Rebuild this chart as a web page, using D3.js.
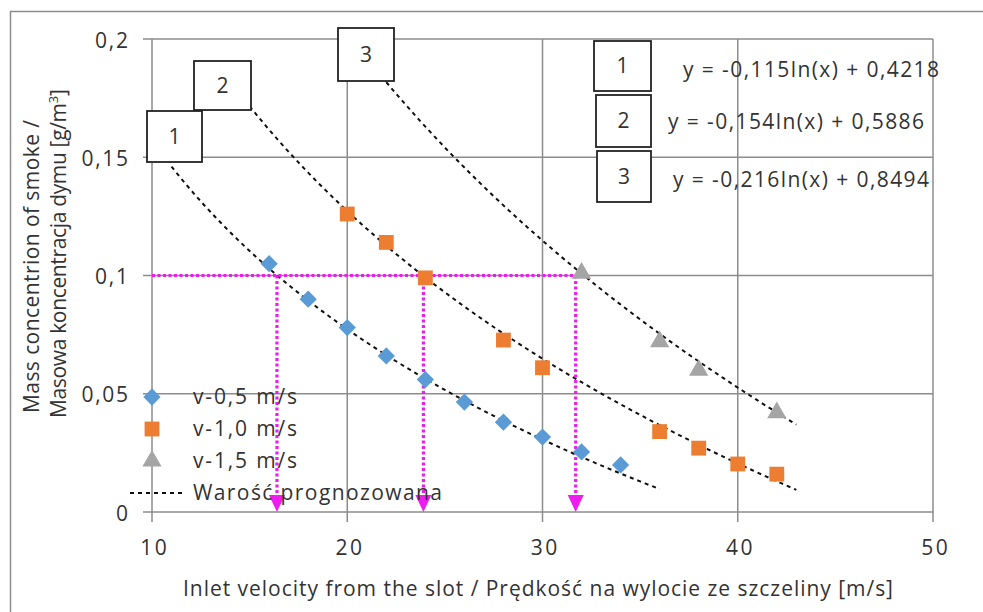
<!DOCTYPE html>
<html>
<head>
<meta charset="utf-8">
<script src="https://cdn.jsdelivr.net/npm/d3@7"></script>
<style>
  html, body { margin: 0; padding: 0; background: #fff; }
  svg { display: block; }
  text { font-family: "Open Sans", Lato, sans-serif; fill: #333; }
</style>
</head>
<body>
<svg id="chart" width="983" height="612"></svg>
<script>
// Measured smoke concentration for three flow velocities
const seriesNames = ["v-0,5 m/s", "v-1,0 m/s", "v-1,5 m/s"];
const x05 = [16, 18, 20, 22, 24, 26, 28, 30, 32, 34];
const y05 = [0.105, 0.090, 0.078, 0.066, 0.056, 0.0465, 0.038, 0.0317, 0.0254, 0.0199];
const x10 = [20, 22, 24, 28, 30, 36, 38, 40, 42];
const y10 = [0.126, 0.114, 0.099, 0.0727, 0.061, 0.034, 0.027, 0.0203, 0.016];
const x15 = [32, 36, 38, 42];
const y15 = [0.101, 0.072, 0.060, 0.042];

// Logarithmic trend lines y = a ln(x) + b, with their x ranges
const trendA = [-0.115, -0.154, -0.216];
const trendB = [0.4218, 0.5886, 0.8494];
const trendFrom = [11, 15, 22];
const trendTo = [36, 43, 43];
const trendLabel = "Warość prognozowana";

// Read-off of the velocity giving 0.1 g/m3
const targetY = 0.1;
const readX = [16.4, 23.9, 31.7];

// Axis ticks
const xTicks = [10, 20, 30, 40, 50];
const yTicks = [0, 0.05, 0.1, 0.15, 0.2];
const xTitle = "Inlet velocity from the slot / Prędkość na wylocie ze szczeliny [m/s]";
const yTitle1 = "Mass concentrion of smoke /";
const yTitle2 = "Masowa koncentracja dymu [g/m";

const colors = ["#5B9BD5", "#ED7D31", "#A5A5A5"];
const fmt = v => String(v).replace(".", ",");
const FS = 21;

const svg = d3.select("#chart");
const L = 152, R = 933, T = 39, B = 512;
const x = d3.scaleLinear().domain([10, 50]).range([L, R]);
const y = d3.scaleLinear().domain([0, 0.2]).range([B, T]);

// Set the letter spacing of a text so it spans the given length
function spanTo(sel, len) {
  sel.attr("textLength", len).attr("lengthAdjust", "spacing");
  return sel;
}
// Widen a set of texts by a common factor, keeping their anchor
function widen(sel, k) {
  sel.each(function () {
    const w = this.getComputedTextLength();
    d3.select(this).attr("textLength", w * k).attr("lengthAdjust", "spacing");
  });
}

// Outer chart frame
svg.append("rect").attr("x", 10.5).attr("y", 11.5).attr("width", 990).attr("height", 620)
  .attr("fill", "none").attr("stroke", "#8c8c8c").attr("stroke-width", 1.5);

// Gridlines
const grid = svg.append("g").attr("stroke", "#8c8c8c").attr("stroke-width", 1.5);
grid.selectAll("line.h").data(yTicks).join("line")
  .attr("x1", L - 9).attr("x2", R).attr("y1", d => y(d)).attr("y2", d => y(d));
grid.selectAll("line.v").data(xTicks).join("line")
  .attr("y1", T).attr("y2", B + 10).attr("x1", d => x(d)).attr("x2", d => x(d));

// Tick labels through d3 axes
const xAxis = svg.append("g").attr("transform", `translate(1,${B})`)
  .call(d3.axisBottom(x).tickValues(xTicks).tickFormat(fmt).tickSize(0).tickPadding(28));
const yAxis = svg.append("g").attr("transform", `translate(${L},0)`)
  .call(d3.axisLeft(y).tickValues(yTicks).tickFormat(fmt).tickSize(0).tickPadding(24));
[xAxis, yAxis].forEach(a => {
  a.select(".domain").remove();
  a.selectAll("text").attr("font-family", "'Open Sans', sans-serif")
    .attr("font-size", FS).attr("fill", "#333");
});
xAxis.selectAll("text").attr("dy", null).attr("y", 43);
yAxis.selectAll("text").attr("dy", null).attr("dominant-baseline", "central").attr("x", -24);
widen(xAxis.selectAll("text"), 1.1);
widen(yAxis.selectAll("text"), 1.12);

// Axis titles
spanTo(svg.append("text").attr("x", 183).attr("y", 596).attr("font-size", FS).text(xTitle), 710);
spanTo(svg.append("text").attr("transform", "translate(39,413) rotate(-90)")
  .attr("font-size", FS).text(yTitle1), 293);
const t2 = svg.append("text").attr("transform", "translate(66,418) rotate(-90)").attr("font-size", FS);
spanTo(t2.append("tspan").text(yTitle2), 315);
t2.append("tspan").attr("font-size", 13).attr("dy", -8).text("3");
t2.append("tspan").attr("dy", 8).text("]");

// Trend lines
const trends = trendA.map((a, i) => {
  const xs = d3.range(trendFrom[i], trendTo[i] + 0.001, 0.25);
  return xs.map(v => [v, a * Math.log(v) + trendB[i]]);
});
const line = d3.line().x(d => x(d[0])).y(d => y(d[1]));
svg.append("g").selectAll("path").data(trends).join("path")
  .attr("d", line).attr("fill", "none").attr("stroke", "#111")
  .attr("stroke-width", 2).attr("stroke-dasharray", "4,4");

// Read-off lines
const pink = "#EE1CEE";
const guide = svg.append("g").attr("stroke", pink).attr("stroke-width", 3.2)
  .attr("stroke-dasharray", "3,2.5").attr("fill", "none");
guide.append("line").attr("x1", L).attr("x2", x(d3.max(readX)) + 4)
  .attr("y1", y(targetY)).attr("y2", y(targetY));
guide.selectAll("line.v").data(readX).join("line")
  .attr("x1", d => x(d)).attr("x2", d => x(d)).attr("y1", y(targetY)).attr("y2", B - 14);
svg.append("g").selectAll("path").data(readX).join("path")
  .attr("d", d => `M${x(d) - 8},${B - 17}L${x(d) + 8},${B - 17}L${x(d)},${B}Z`)
  .attr("fill", pink);

// Markers
const diamond = d3.symbol().type(d3.symbolDiamond2).size(190);
const square = d3.symbol().type(d3.symbolSquare).size(220);
const tri = d3.symbol().type(d3.symbolTriangle).size(160);
const sets = [
  { xs: x05, ys: y05, sym: diamond },
  { xs: x10, ys: y10, sym: square },
  { xs: x15, ys: y15, sym: tri }
];
sets.forEach((s, i) => {
  svg.append("g").selectAll("path").data(s.xs.map((v, j) => [v, s.ys[j]])).join("path")
    .attr("transform", d => `translate(${x(d[0])},${y(d[1])})`)
    .attr("d", s.sym).attr("fill", colors[i]);
});

// Legend
const legY = [397, 429, 461, 493];
const legW = [104, 104, 104, 249];
const leg = svg.append("g");
[diamond, square, tri].forEach((sym, i) => {
  leg.append("path").attr("transform", `translate(152,${legY[i]})`).attr("d", sym).attr("fill", colors[i]);
  spanTo(leg.append("text").attr("x", 193).attr("y", legY[i] + 7).attr("font-size", FS)
    .text(seriesNames[i]), legW[i]);
});
leg.append("line").attr("x1", 130).attr("x2", 182).attr("y1", legY[3]).attr("y2", legY[3])
  .attr("stroke", "#111").attr("stroke-width", 2).attr("stroke-dasharray", "4,4");
spanTo(leg.append("text").attr("x", 193).attr("y", legY[3] + 7).attr("font-size", FS)
  .text(trendLabel), legW[3]);

// Numbered boxes next to the trend lines
const boxes = [
  { n: 3, x0: 338, y0: 28, x1: 394, y1: 81 },
  { n: 2, x0: 194, y0: 61, x1: 251, y1: 110 },
  { n: 1, x0: 147, y0: 111, x1: 202, y1: 162 },
  { n: 1, x0: 594, y0: 41, x1: 651, y1: 91 },
  { n: 2, x0: 596, y0: 95, x1: 651, y1: 147 },
  { n: 3, x0: 597, y0: 151, x1: 651, y1: 202 }
];
const bx = svg.append("g");
boxes.forEach(b => {
  bx.append("rect").attr("x", b.x0).attr("y", b.y0).attr("width", b.x1 - b.x0).attr("height", b.y1 - b.y0)
    .attr("fill", "#fff").attr("stroke", "#222").attr("stroke-width", 1.8);
  bx.append("text").attr("x", (b.x0 + b.x1) / 2).attr("y", (b.y0 + b.y1) / 2 + 7)
    .attr("text-anchor", "middle").attr("font-size", FS).text(b.n);
});

// Trend equations
const eqX = [683, 668, 673];
const eqY = [77, 129, 187];
trendA.forEach((a, i) => {
  spanTo(svg.append("text").attr("x", eqX[i]).attr("y", eqY[i]).attr("font-size", FS)
    .text(`y = ${fmt(a)}ln(x) + ${fmt(trendB[i])}`), 256);
});
</script>
</body>
</html>
